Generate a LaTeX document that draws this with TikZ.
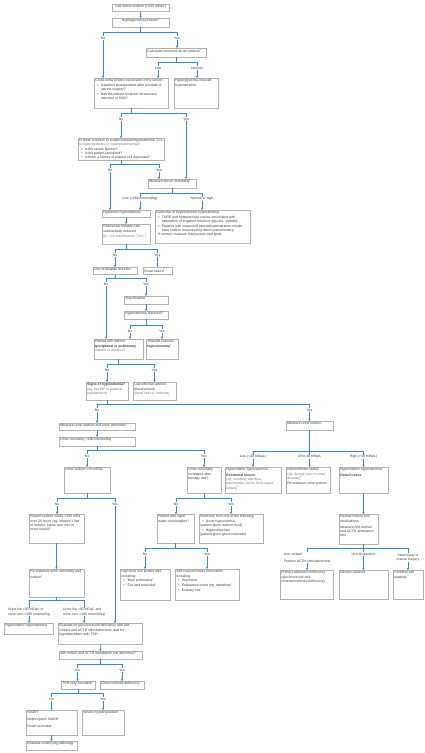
\documentclass[tikz,border=0pt]{standalone}
\usepackage{fontspec}
\setmainfont{Liberation Sans}
\usetikzlibrary{arrows.meta}

\definecolor{flowblue}{RGB}{48,142,208}
\definecolor{boxline}{RGB}{178,178,178}
\definecolor{inkgray}{RGB}{58,58,58}
\definecolor{softgray}{RGB}{120,120,120}

\newcommand{\flowfont}{\fontsize{3.45}{4.2}\selectfont}
\newcommand{\itm}[1]{\par\vspace{0.5pt}\hangindent=5.5pt\hangafter=1\noindent\hspace*{2pt}\makebox[3.5pt][l]{\textbullet}#1}
\newcommand{\flowbox}[6]{%
  \node[panel] (#1) at (#2,#3)
    {\parbox[c][\dimexpr#5pt-2.6pt\relax][t]{\dimexpr#4pt-2.6pt\relax}{\raggedright #6}};}

\tikzset{
  panel/.style={draw=boxline, line width=0.5pt, fill=white, inner sep=1.1pt,
    anchor=north west, text=inkgray, font=\flowfont},
  ln/.style={draw=flowblue, line width=0.6pt},
  arr/.style={ln, -{Triangle[length=2.2pt, width=2.2pt]}},
  tag/.style={pos=0, yshift=-6pt, fill=white, inner sep=0.6pt, text=inkgray,
    font=\flowfont, align=center},
}

\begin{document}
\begin{tikzpicture}[x=1pt, y=-1pt]
  \useasboundingbox (0,0) rectangle (424,753);

  % boxes
  \flowbox{low}{112}{4}{57}{7.5}{\centering Low serum sodium (<135 mEq/L)}
  \flowbox{hyper}{112}{18}{57}{9}{\centering Hyperglycemia present?}
  \flowbox{calc}{146}{48}{60}{9}{Calculate corrected serum sodium\textsuperscript{a}}
  \flowbox{solutes}{94}{78}{74}{30}{Could extra solutes be present in the serum:%
    \itm{Is patient postoperative after prostate or uterine surgery?}%
    \itm{Has the patient received intravenous mannitol or IVIG?}}
  \flowbox{hgi}{174}{78}{44}{30}{Hyperglycemia-induced hyponatremia}
  \flowbox{pseudo}{78}{138}{86}{22}{\fontsize{3.45}{3.9}\selectfont
    Is there a reason to suspect pseudohyponatremia
    {\color{softgray}(due to hyperlipidemia or hyperproteinemia)}?%
    \itm{Is the serum lipemic?}\itm{Is the patient jaundiced?}%
    \itm{Is there a history of plasma cell dyscrasia?}}
  \flowbox{sosm}{148}{179}{48}{9}{Measure serum osmolality}
  \flowbox{hypot}{102}{210}{48}{7.5}{Hypotonic hyponatremia}
  \flowbox{iso}{155}{210}{95}{33}{Isosmolar or hyperosmolar hyponatremia%
    \itm{TURP and hysteroscopy can be associated with absorption of irrigation solutions (glycine, sorbitol).}%
    \itm{Patients with suspected pseudohyponatremia should have sodium measured by direct potentiometry.}%
    \par\hspace*{2pt}If normal, measure total protein and lipids.}
  \flowbox{gfr}{102}{224}{48}{20}{Glomerular filtration rate substantially reduced\par
    {\color{softgray}(ie, <15 mL/minute/1.73 m\textsuperscript{2})}}
  \flowbox{thz}{93}{267}{44}{7.5}{Use of thiazide diuretics}
  \flowbox{renal}{143}{267}{29}{7.5}{Renal failure\textsuperscript{b}}
  \flowbox{stop}{124}{296}{44}{8}{Stop thiazide}
  \flowbox{resolved}{124}{311}{44}{8}{Hyponatremia resolved?}
  \flowbox{edema}{94}{339}{49}{20}{Patient with edema\par\textbf{(peripheral or pulmonary}\par
    {\color{softgray}edema or ascites)?}}
  \flowbox{thzind}{146}{339}{32}{20}{Thiazide-induced\par\textbf{hyponatremia}\textsuperscript{c}}
  \flowbox{hypov}{86}{382}{42}{18}{\textbf{Signs of hypovolemia?}\par
    {\color{softgray}(eg, low BP or postural hypotension)}}
  \flowbox{leabv}{133}{382}{43}{18}{Low effective arterial blood volume\par
    {\color{softgray}(heart failure, cirrhosis)}}
  \flowbox{unaosm}{59}{423}{76}{7.5}{Measure urine sodium and urine osmolality}
  \flowbox{uosm}{59}{437}{76}{9}{Urine osmolality <100 mosmol/kg}
  \flowbox{una30}{64}{467}{46}{26}{Urine sodium >30 mEq/L}
  \flowbox{uinc}{187}{467}{34}{26}{Urine osmolality increased after therapy trial?}
  \flowbox{usod}{286}{421}{47}{9}{Measure urine sodium}
  \flowbox{extra}{225}{467}{56}{26}{Hypovolemic hyponatremia\par\vspace{1pt}\textbf{Extrarenal losses}\par
    {\color{softgray}(eg, vomiting, diarrhea, pancreatitis, burns, third-space losses)\textsuperscript{d}}}
  \flowbox{indet}{286}{467}{44}{26}{Indeterminate status\par
    {\color{softgray}(eg, diuretic use or renal disease)\textsuperscript{e}}\par\vspace{1.5pt}Re-measure urine sodium}
  \flowbox{renl}{339}{467}{49}{26}{Hypovolemic hyponatremia\par\vspace{1pt}\textbf{Renal losses}}
  \flowbox{nain}{29}{514}{55}{29}{Recent sodium intake >150 mEq over 24 hours (eg, infused 1 liter of isotonic saline over one or more hours)?}
  \flowbox{rapid}{157}{514}{37}{29}{Patient with rapid water consumption?}
  \flowbox{recov}{199}{514}{64}{29}{Recovery from one of the following:%
    \itm{Acute hypovolemia\par(patient given isotonic fluid)}%
    \itm{Hypocortisolism\par(patient given glucocorticoids)}}
  \flowbox{review}{339}{514}{39}{30}{Review history and medications\par\vspace{2pt}Measure AM cortisol and ACTH stimulation test}
  \flowbox{remeas}{29}{569}{55}{28}{Re-measure urine osmolality and sodium\textsuperscript{f}}
  \flowbox{hfld}{120}{569}{50}{31}{High fluid, low protein diet, including:%
    \itm{``Beer potomania''}\itm{``Tea and toast diet''}}
  \flowbox{siwi}{175}{569}{64}{31}{Self-induced water intoxication, including:%
    \itm{Psychosis}\itm{Endurance event (eg, marathon)}\itm{Ecstasy use}}
  \flowbox{pai}{280}{570}{53}{29}{Primary adrenal insufficiency (glucocorticoid and mineralocorticoid deficiency)}
  \flowbox{diur}{339}{570}{49}{29}{Diuretic-induced}
  \flowbox{csw}{393}{570}{30}{29}{Cerebral salt wasting}
  \flowbox{hypovh}{4}{623}{49}{11}{Hypovolemic hyponatremia}
  \flowbox{evalg}{58}{623}{84}{21}{Evaluate for glucocorticoid deficiency with AM cortisol and ACTH stimulation test, and for hypothyroidism with TSH}
  \flowbox{amc}{59}{651}{83}{8}{AM cortisol and ACTH stimulation test abnormal?}
  \flowbox{tsh}{61}{681}{34}{8}{TSH very elevated?}
  \flowbox{gcd}{100}{681}{44}{8}{Glucocorticoid deficiency}
  \flowbox{siadh}{26}{710}{51}{25}{SIADH\par\vspace{2.5pt}Nephrogenic SIADH\par\vspace{2.5pt}Reset osmostat}
  \flowbox{shypo}{82}{710}{42}{25}{Severe hypothyroidism}
  \flowbox{evalu}{26}{741}{51}{9}{Evaluate underlying pathology}

  % split points
  \coordinate (hyN) at (103,32);   \coordinate (hyY) at (177,32);
  \coordinate (caL) at (158,62);   \coordinate (caN) at (197,62);
  \coordinate (soN) at (121,113);  \coordinate (soY) at (186,113);
  \coordinate (psN) at (110,164);  \coordinate (psY) at (159,164);
  \coordinate (smL) at (140,193);  \coordinate (smH) at (202,193);
  \coordinate (gfN) at (115,249);  \coordinate (gfY) at (157.5,249);
  \coordinate (thN) at (106,278);  \coordinate (thY) at (146,278);
  \coordinate (reN) at (130,325);  \coordinate (reY) at (162,325);
  \coordinate (edN) at (107,364);  \coordinate (edY) at (154.5,364);
  \coordinate (hvN) at (97,404);   \coordinate (hvY) at (309.5,404);
  \coordinate (uoN) at (87,450);   \coordinate (uoY) at (204,450);
  \coordinate (naN) at (57,498);   \coordinate (naY) at (115,498);
  \coordinate (uiN) at (176,498);  \coordinate (uiY) at (231,498);
  \coordinate (rmL) at (29,600);   \coordinate (rmR) at (84,600);
  \coordinate (amN) at (77.5,664); \coordinate (amY) at (122,664);
  \coordinate (tsN) at (51.5,693); \coordinate (tsY) at (103,693);
  \coordinate (rwN) at (145,548);  \coordinate (rwY) at (207,548);
  \coordinate (usL) at (253,451);  \coordinate (usR) at (363.5,451);
  \coordinate (rvL) at (307,548);  \coordinate (rvR) at (408,548);
  \coordinate (usM) at (usod.south |- usL);
  \coordinate (rvM) at (renl.south |- rvL);

  % connectors
  \draw[arr] (low) -- (hyper);
  \draw[ln] (hyper.south) -- (hyper.south |- hyN) (hyN) -- (hyY);
  \draw[arr] (hyN) -- node[tag] {No} (hyN |- solutes.north);
  \draw[arr] (hyY) -- node[tag] {Yes} (hyY |- calc.north);

  \draw[ln] (calc.south) -- (calc.south |- caL) (caL) -- (caN);
  \draw[arr] (caL) -- node[tag] {Low} (caL |- solutes.north);
  \draw[arr] (caN) -- node[tag] {Normal} (caN |- hgi.north);

  \draw[ln] (solutes.south) -- (solutes.south |- soN) (soN) -- (soY);
  \draw[arr] (soN) -- node[tag] {No} (soN |- pseudo.north);
  \draw[arr] (soY) -- node[tag] {Yes} (soY |- sosm.north);

  \draw[ln] (pseudo.south) -- (pseudo.south |- psN) (psN) -- (psY);
  \draw[arr] (psN) -- node[tag] {No} (psN |- hypot.north);
  \draw[arr] (psY) -- node[tag] {Yes} (psY |- sosm.north);

  \draw[ln] (sosm.south) -- (sosm.south |- smL) (smL) -- (smH);
  \draw[arr] (smL) -- node[tag] {Low (<280 mosmol/kg)} (smL |- hypot.north);
  \draw[arr] (smH) -- node[tag] {Normal or high} (smH |- iso.north);

  \draw[arr] (hypot) -- (gfr);
  \draw[ln] (gfr.south) -- (gfr.south |- gfN) (gfN) -- (gfY);
  \draw[arr] (gfN) -- node[tag] {No} (gfN |- thz.north);
  \draw[arr] (gfY) -- node[tag] {Yes} (gfY |- renal.north);

  \draw[ln] (thz.south) -- (thz.south |- thN) (thN) -- (thY);
  \draw[arr] (thN) -- node[tag] {No} (thN |- edema.north);
  \draw[arr] (thY) -- node[tag] {Yes} (thY |- stop.north);
  \draw[arr] (stop) -- (resolved);

  \draw[ln] (resolved.south) -- (resolved.south |- reN) (reN) -- (reY);
  \draw[arr] (reN) -- node[tag] {No} (reN |- edema.north);
  \draw[arr] (reY) -- node[tag] {Yes} (reY |- thzind.north);

  \draw[ln] (edema.south) -- (edema.south |- edN) (edN) -- (edY);
  \draw[arr] (edN) -- node[tag] {No} (edN |- hypov.north);
  \draw[arr] (edY) -- node[tag] {Yes} (edY |- leabv.north);

  \draw[ln] (hypov.south) -- (hypov.south |- hvN) (hvN) -- (hvY);
  \draw[arr] (hvN) -- node[tag] {No} (hvN |- unaosm.north);
  \draw[arr] (hvY) -- node[tag] {Yes} (hvY |- usod.north);

  \draw[arr] (unaosm) -- (uosm);
  \draw[ln] (uosm.south) -- (uosm.south |- uoN) (uoN) -- (uoY);
  \draw[arr] (uoN) -- node[tag] {No} (uoN |- una30.north);
  \draw[arr] (uoY) -- node[tag] {Yes} (uoY |- uinc.north);

  \draw[ln] (una30.south) -- (una30.south |- naN) (naN) -- (naY);
  \draw[arr] (naN) -- node[tag] {No} (naN |- nain.north);
  \draw[arr] (naY) -- node[tag] {Yes} (naY |- evalg.north);
  \draw[arr] (nain) -- (remeas);

  \draw[ln] (uinc.south) -- (uinc.south |- uiN) (uiN) -- (uiY);
  \draw[arr] (uiN) -- node[tag] {No} (uiN |- rapid.north);
  \draw[arr] (uiY) -- node[tag] {Yes} (uiY |- recov.north);

  \draw[ln] (rapid.south) -- (rapid.south |- rwN) (rwN) -- (rwY);
  \draw[arr] (rwN) -- node[tag] {No} (rwN |- hfld.north);
  \draw[arr] (rwY) -- node[tag] {Yes} (rwY |- siwi.north);

  \draw[ln] (remeas.south) -- (remeas.south |- rmL) (rmL) -- (rmR);
  \draw[arr] (rmL) -- node[tag, yshift=-6pt, align=left] {Urine Na <30 mEq/L or\\urine osm <100 mosmol/kg} (rmL |- hypovh.north);
  \draw[arr] (rmR) -- node[tag, yshift=-6pt, align=left] {Urine Na >30 mEq/L and\\urine osm >100 mosmol/kg} (rmR |- evalg.north);

  \draw[arr] (evalg) -- (amc);
  \draw[ln] (amc.south) -- (amc.south |- amN) (amN) -- (amY);
  \draw[arr] (amN) -- node[tag] {No} (amN |- tsh.north);
  \draw[arr] (amY) -- node[tag] {Yes} (amY |- gcd.north);

  \draw[ln] (tsh.south) -- (tsh.south |- tsN) (tsN) -- (tsY);
  \draw[arr] (tsN) -- node[tag] {No} (tsN |- siadh.north);
  \draw[arr] (tsY) -- node[tag] {Yes} (tsY |- shypo.north);
  \draw[arr] (siadh) -- (evalu);

  \draw[ln] (usod.south) -- (usM) (usL) -- (usR);
  \draw[arr] (usL) -- node[tag] {Low (<20 mEq/L)} (usL |- extra.north);
  \draw[arr] (usM) -- node[tag] {20 to 40 mEq/L} (usM |- indet.north);
  \draw[arr] (usR) -- node[tag] {High (>40 mEq/L)} (usR |- renl.north);

  \draw[arr] (renl.south) -- (renl.south |- review.north);
  \draw[ln] (review.south -| rvM) -- (rvM) (rvL) -- (rvR);
  \draw[arr] (rvL) -- node[tag, yshift=-3.5pt, align=left] {Low cortisol\\[3pt]Positive ACTH stimulation test} (rvL |- pai.north);
  \draw[arr] (rvM) -- node[tag] {Use of diuretics} (rvM |- diur.north);
  \draw[arr] (rvR) -- node[tag, yshift=-3.5pt] {Head injury or\\cranial surgery} (rvR |- csw.north);
\end{tikzpicture}
\end{document}
